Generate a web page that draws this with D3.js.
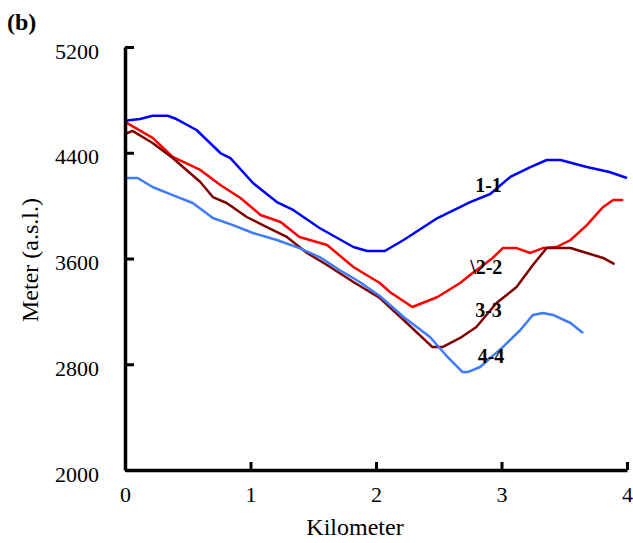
<!DOCTYPE html>
<html>
<head>
<meta charset="utf-8">
<script src="https://cdn.jsdelivr.net/npm/d3@7"></script>
<style>
  body { margin: 0; background: #fff; }
  svg text { font-family: "Liberation Serif", "Times New Roman", serif; fill: #000; }
  .axis-title { font-size: 24px; }
  .profile-label { font-size: 20px; font-weight: bold; }
</style>
</head>
<body>
<div id="chart"></div>
<script>
// elevation profiles (km along section, metres a.s.l.)
var profile1Km   = [0, 0.12, 0.22, 0.34, 0.41, 0.57, 0.76, 0.84, 1.02, 1.21, 1.34, 1.55, 1.82, 1.93, 2.07, 2.22, 2.49, 2.75, 2.91, 3.07, 3.23, 3.36, 3.47, 3.68, 3.86, 4.0];
var profile1Elev = [4642, 4655, 4680, 4680, 4655, 4572, 4398, 4360, 4171, 4027, 3967, 3831, 3687, 3657, 3657, 3740, 3906, 4027, 4088, 4217, 4292, 4345, 4345, 4292, 4254, 4209];

var profile2Km   = [0, 0.22, 0.38, 0.60, 0.76, 0.92, 1.08, 1.24, 1.39, 1.61, 1.82, 2.03, 2.11, 2.29, 2.49, 2.67, 2.77, 2.93, 3.01, 3.12, 3.23, 3.33, 3.44, 3.55, 3.68, 3.81, 3.89, 3.97];
var profile2Elev = [4633, 4512, 4368, 4270, 4156, 4058, 3929, 3876, 3763, 3702, 3536, 3415, 3347, 3233, 3309, 3415, 3490, 3604, 3679, 3679, 3642, 3679, 3687, 3740, 3853, 3990, 4043, 4043];

var profile3Km   = [0, 0.06, 0.22, 0.38, 0.49, 0.60, 0.70, 0.81, 0.97, 1.13, 1.29, 1.45, 1.61, 1.82, 2.03, 2.22, 2.45, 2.53, 2.67, 2.80, 2.96, 3.12, 3.25, 3.36, 3.55, 3.68, 3.81, 3.90];
var profile3Elev = [4542, 4565, 4474, 4360, 4270, 4179, 4065, 4020, 3914, 3838, 3763, 3642, 3551, 3422, 3301, 3135, 2930, 2930, 2999, 3082, 3263, 3384, 3551, 3679, 3679, 3642, 3604, 3558];

var profile4Km   = [0, 0.10, 0.22, 0.38, 0.54, 0.70, 0.86, 1.02, 1.21, 1.39, 1.55, 1.71, 1.87, 2.03, 2.22, 2.43, 2.57, 2.69, 2.73, 2.83, 3.01, 3.15, 3.25, 3.33, 3.41, 3.55, 3.65];
var profile4Elev = [4209, 4209, 4141, 4080, 4020, 3906, 3853, 3793, 3740, 3679, 3611, 3513, 3422, 3316, 3157, 3006, 2855, 2741, 2741, 2779, 2930, 3059, 3173, 3188, 3173, 3112, 3036];

var profileNames = ["1-1", "\\2-2", "3-3", "4-4"];
var xTicks = [0, 1, 2, 3, 4];
var yTicks = [2000, 2800, 3600, 4400, 5200];

function drawChart() {
  var width = 633,
      height = 543,
      plotLeft = 125,
      plotRight = 627,
      plotTop = 47,
      plotBottom = 470;

  var profiles = [
    { name: profileNames[0], km: profile1Km, elev: profile1Elev, color: "#0000ff" },
    { name: profileNames[1], km: profile2Km, elev: profile2Elev, color: "#ff0000" },
    { name: profileNames[2], km: profile3Km, elev: profile3Elev, color: "#800000" },
    { name: profileNames[3], km: profile4Km, elev: profile4Elev, color: "#3f7bff" }
  ];

  // where the bold section names sit, in data units (left edge, baseline)
  var labelAnchors = [[2.79, 4103], [2.75, 3483], [2.79, 3157], [2.81, 2809]];

  var x = d3.scaleLinear().domain([0, 4]).range([plotLeft, plotRight]);
  var y = d3.scaleLinear().domain([2000, 5200]).range([plotBottom, plotTop]);

  var svg = d3.select("#chart")
    .append("svg")
      .attr("width", width)
      .attr("height", height);

  var line = d3.line()
      .x(function(d) { return x(d[0]); })
      .y(function(d) { return y(d[1]); });

  // profile lines
  svg.selectAll(".profile")
    .data(profiles)
    .enter()
    .append("path")
      .attr("class", "profile")
      .attr("fill", "none")
      .attr("stroke", function(d) { return d.color; })
      .attr("stroke-width", 2.5)
      .attr("stroke-linejoin", "round")
      .attr("d", function(d) {
        return line(d.km.map(function(k, i) { return [k, d.elev[i]]; }));
      });

  // axes, ticks pointing inward
  var xAxis = d3.axisBottom(x)
      .tickValues(xTicks)
      .tickSizeInner(-8)
      .tickSizeOuter(0)
      .tickPadding(20)
      .tickFormat(d3.format("d"));

  var yAxis = d3.axisLeft(y)
      .tickValues(yTicks)
      .tickSizeInner(-9)
      .tickSizeOuter(0)
      .tickPadding(26)
      .tickFormat(d3.format("d"));

  var gx = svg.append("g")
      .attr("transform", "translate(0," + plotBottom + ")")
      .call(xAxis);

  var gy = svg.append("g")
      .attr("transform", "translate(" + plotLeft + ",0)")
      .call(yAxis);

  [gx, gy].forEach(function(g) {
    g.select(".domain").attr("stroke", "#000").attr("stroke-width", 3.5);
    g.selectAll(".tick line").attr("stroke", "#000").attr("stroke-width", 3);
    g.selectAll(".tick text")
      .attr("fill", "#000")
      .style("font-family", "'Liberation Serif', serif")
      .style("font-size", "22px");
  });
  gy.selectAll(".tick text").attr("dy", "0.5em");
  gx.selectAll(".tick text").attr("dy", "0.55em");

  // section names
  svg.selectAll(".profile-label")
    .data(profiles)
    .enter()
    .append("text")
      .attr("class", "profile-label")
      .attr("x", function(d, i) { return x(labelAnchors[i][0]); })
      .attr("y", function(d, i) { return y(labelAnchors[i][1]); })
      .text(function(d) { return d.name; });

  // titles
  svg.append("text")
      .attr("class", "axis-title")
      .attr("x", 355)
      .attr("y", 535)
      .attr("text-anchor", "middle")
      .text("Kilometer");

  svg.append("text")
      .attr("class", "axis-title")
      .attr("transform", "translate(38,260) rotate(-90)")
      .attr("text-anchor", "middle")
      .text("Meter (a.s.l.)");

  svg.append("text")
      .attr("x", 7)
      .attr("y", 30)
      .style("font-size", "24px")
      .style("font-weight", "bold")
      .text("(b)");
}

drawChart();
</script>
</body>
</html>
